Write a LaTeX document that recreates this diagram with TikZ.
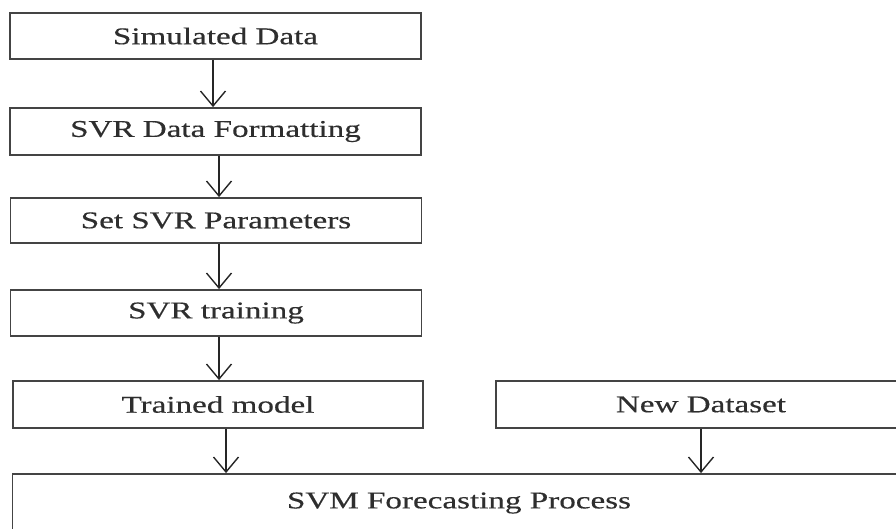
\documentclass[tikz,border=0pt]{standalone}
\usepackage{fontspec}
\usetikzlibrary{arrows.meta}
\newfontfamily\lblfont[FakeStretch=1.38,FakeBold=0.4]{Liberation Serif}
\definecolor{boxline}{HTML}{444444}
\definecolor{txt}{HTML}{2E2E2E}
\begin{document}
\begin{tikzpicture}[x=1pt,y=-1pt,
  stage/.style={draw=boxline, line width=1.8pt, fill=white, inner sep=0pt,
    minimum height=46pt, text=txt,
    font=\lblfont\fontsize{24}{28}\selectfont},
  flow/.style={draw=black!85, line width=1.4pt,
    -{Straight Barb[length=15pt,width=25pt,line width=1.4pt]}}]
  \useasboundingbox (0,0) rectangle (896,529);
  \clip (0,0) rectangle (896,529);
  \fill[white] (0,0) rectangle (896,529);

  % main pipeline
  \node[stage, minimum width=411pt] (sim)   at (215.5,36)    {Simulated Data};
  \node[stage, minimum width=411pt, minimum height=47pt] (fmt) at (215.5,131.5) {SVR Data Formatting};
  \node[stage, minimum width=411pt, minimum height=45pt] (par) at (216,220.5) {Set SVR Parameters};
  \node[stage, minimum width=411pt] (train) at (216,313)   {SVR training};
  \node[stage, minimum width=410pt, minimum height=47pt] (model) at (218,404.5) {Trained model};
  \node[stage, minimum width=410pt, minimum height=47pt] (new)   at (701,404.5) {New Dataset};
  \node[stage, minimum width=893pt, minimum height=58pt] (svm)   at (459,503)   {SVM Forecasting Process};

  % connector start points
  \path (sim.south)   ++(-2.5pt,0) coordinate (s1);
  \path (fmt.south)   ++(3.5pt,0)  coordinate (s2);
  \path (par.south)   ++(3pt,0)    coordinate (s3);
  \path (train.south) ++(3pt,0)    coordinate (s4);
  \path (model.south) ++(8pt,0)    coordinate (s5);

  % connectors
  \draw[flow] (s1) -- (s1 |- fmt.north);
  \draw[flow] (s2) -- (s2 |- par.north);
  \draw[flow] (s3) -- (s3 |- train.north);
  \draw[flow] (s4) -- (s4 |- model.north);
  \draw[flow] (s5) -- (s5 |- svm.north);
  \draw[flow] (new.south) -- (new.south |- svm.north);
\end{tikzpicture}
\end{document}
